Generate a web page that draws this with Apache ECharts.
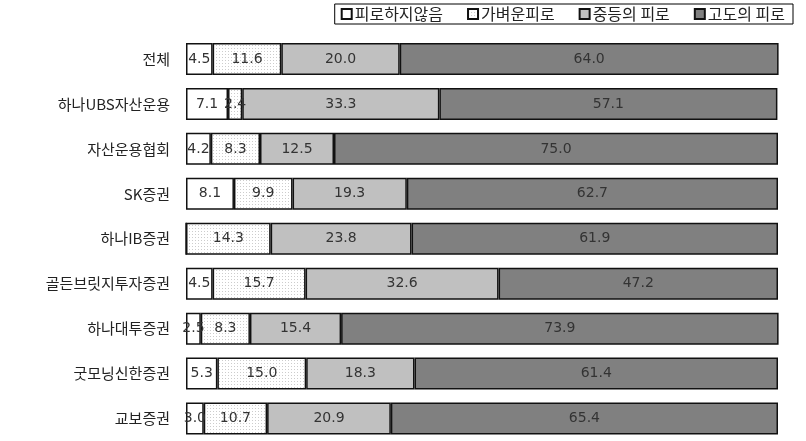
<!DOCTYPE html>
<html>
<head>
<meta charset="utf-8">
<script src="https://cdn.jsdelivr.net/npm/echarts@6/dist/echarts.min.js"></script>
<style>
  html, body { margin: 0; padding: 0; background: #fff; }
  #chart { width: 806px; height: 441px; }
</style>
</head>
<body>
<div id="chart"></div>
<script>
var categories = ['전체', '하나UBS자산운용', '자산운용협회', 'SK증권', '하나IB증권', '골든브릿지투자증권', '하나대투증권', '굿모닝신한증권', '교보증권']
var seriesNames = ['피로하지않음', '가벼운피로', '중등의 피로', '고도의 피로']
var none = [4.5, 7.1, 4.2, 8.1, 0, 4.5, 2.5, 5.3, 3.0]
var light = [11.6, 2.4, 8.3, 9.9, 14.3, 15.7, 8.3, 15.0, 10.7]
var moderate = [20.0, 33.3, 12.5, 19.3, 23.8, 32.6, 15.4, 18.3, 20.9]
var severe = [64.0, 57.1, 75.0, 62.7, 61.9, 47.2, 73.9, 61.4, 65.4]

// dotted fill for the light-fatigue bars
var dots = document.createElement('canvas')
dots.width = 3
dots.height = 3
var ctx = dots.getContext('2d')
ctx.fillStyle = '#ffffff'
ctx.fillRect(0, 0, 3, 3)
ctx.fillStyle = '#cccccc'
ctx.fillRect(0, 0, 1, 1)

var fills = ['#ffffff', { image: dots, repeat: 'repeat' }, '#c0c0c0', '#808080']
var values = [none, light, moderate, severe]

var chart = echarts.init(document.getElementById('chart'))
var krFont = '"Noto Sans CJK KR", sans-serif'

chart.setOption({
  animation: false,
  legend: {
    data: seriesNames,
    right: 13,
    top: 4,
    padding: [2, 8, 2, 6],
    borderColor: '#000',
    borderWidth: 1,
    itemWidth: 10,
    itemHeight: 10,
    itemGap: 24,
    icon: 'rect',
    textStyle: { fontSize: 16, color: '#222', fontFamily: krFont, padding: [0, 0, 0, -2] }
  },
  grid: {
    left: 186,
    right: 28,
    top: 36.5,
    height: 413.5
  },
  xAxis: {
    type: 'value',
    min: 0,
    max: 100,
    show: false
  },
  yAxis: {
    type: 'category',
    data: categories,
    inverse: true,
    axisLine: { show: false },
    axisTick: { show: false },
    axisLabel: { fontSize: 15, color: '#222', margin: 16, fontFamily: krFont }
  },
  series: seriesNames.map(function (name, i) {
    return {
      name: name,
      type: 'bar',
      stack: 'total',
      barWidth: 32,
      data: values[i],
      itemStyle: {
        color: fills[i],
        borderColor: '#111',
        borderWidth: 1.5
      },
      label: {
        show: true,
        position: 'inside',
        color: '#333',
        fontSize: 14,
        fontFamily: 'DejaVu Sans, sans-serif',
        formatter: function (p) {
          return p.value > 0 ? p.value.toFixed(1) : ''
        }
      }
    }
  })
})
</script>
</body>
</html>
